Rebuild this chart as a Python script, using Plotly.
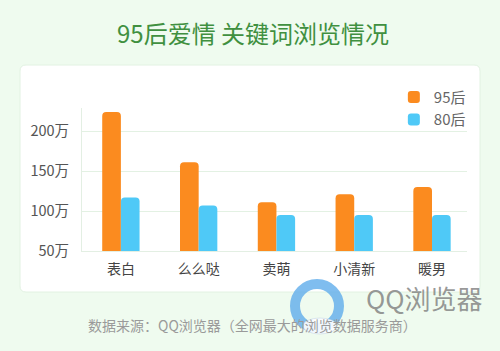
import plotly.graph_objects as go

categories = ["表白", "么么哒", "卖萌", "小清新", "暖男"]
series_95 = [224, 161, 111, 121, 130]
series_80 = [117, 107, 95, 95, 95]
tick_vals = [50, 100, 150, 200]
tick_text = ["50万", "100万", "150万", "200万"]

FONT = "Noto Sans CJK SC"
W, H = 500, 351
L, R, T, B = 82, 33, 108, 100

fig = go.Figure()
fig.add_trace(go.Bar(name="95后", x=categories, y=series_95, marker_color="#fb8b1f",
                     marker_line_width=0))
fig.add_trace(go.Bar(name="80后", x=categories, y=series_80, marker_color="#4fc9f7",
                     marker_line_width=0))

fig.update_layout(
    width=W, height=H,
    margin=dict(l=L, r=R, t=T, b=B),
    paper_bgcolor="#effbef",
    plot_bgcolor="rgba(0,0,0,0)",
    barmode="group",
    bargap=0.52,
    bargroupgap=0,
    barcornerradius=4,
    font=dict(family=FONT, color="#555555"),
    showlegend=True,
    legend=dict(x=1.01, xanchor="right", y=1.19, yanchor="top",
                font=dict(size=15, color="#666666", family=FONT),
                bgcolor="rgba(0,0,0,0)", itemwidth=30, tracegroupgap=0),
    xaxis=dict(range=[-0.5, 4.45], showgrid=False, showline=True, linecolor="#e3efe3",
               linewidth=1, ticks="", tickfont=dict(size=14, color="#444444", family=FONT),
               ticklabelstandoff=5, fixedrange=True),
    yaxis=dict(range=[50, 229], tickvals=tick_vals, ticktext=tick_text, showgrid=True,
               gridcolor="#e3f1e3", gridwidth=1, showline=True, linecolor="#e3efe3",
               linewidth=1, ticks="", zeroline=False,
               tickfont=dict(size=14.5, color="#555555", family=FONT),
               ticklabelstandoff=9, fixedrange=True),
)

def to_paper_x(p):
    return (p - L) / (W - L - R)

def to_paper_y(p):
    return (H - B - p) / (H - T - B)

# white rounded panel
x0, x1, y0, y1, r = 20, 480, 65, 292, 6
px0, px1 = to_paper_x(x0), to_paper_x(x1)
py0, py1 = to_paper_y(y0), to_paper_y(y1)
rx = r / (W - L - R)
ry = r / (H - T - B)
panel_path = (f"M {px0+rx},{py0} L {px1-rx},{py0} Q {px1},{py0} {px1},{py0-ry} L {px1},{py1+ry} "
              f"Q {px1},{py1} {px1-rx},{py1} L {px0+rx},{py1} Q {px0},{py1} {px0},{py1+ry} "
              f"L {px0},{py0-ry} Q {px0},{py0} {px0+rx},{py0} Z")
fig.add_shape(type="path", xref="paper", yref="paper", path=panel_path,
              fillcolor="#ffffff", line=dict(color="#e2f2e2", width=1), layer="below")

# watermark ring
cx, cy, rr = 317, 306, 22
fig.add_shape(type="circle", xref="paper", yref="paper",
              x0=to_paper_x(cx - rr), x1=to_paper_x(cx + rr),
              y0=to_paper_y(cy + rr), y1=to_paper_y(cy - rr),
              line=dict(color="rgba(95,172,235,0.8)", width=10), fillcolor="rgba(0,0,0,0)", layer="above")
# small cloud at the bottom of the ring
fig.add_shape(type="circle", xref="paper", yref="paper",
              x0=to_paper_x(303), x1=to_paper_x(337),
              y0=to_paper_y(334), y1=to_paper_y(318),
              line=dict(color="rgba(200,215,230,0.6)", width=1), fillcolor="rgba(250,252,255,0.92)", layer="above")

fig.add_annotation(text="95后爱情 关键词浏览情况", xref="paper", yref="paper",
                   x=to_paper_x(253), y=to_paper_y(32), xanchor="center", yanchor="middle",
                   showarrow=False, font=dict(size=24, color="#409040", family=FONT))
fig.add_annotation(text="QQ浏览器", xref="paper", yref="paper",
                   x=to_paper_x(485), y=to_paper_y(297), xanchor="right", yanchor="middle",
                   showarrow=False, font=dict(size=26, color="rgba(125,125,125,0.8)", family=FONT))
fig.add_annotation(text="数据来源：QQ浏览器（全网最大的浏览数据服务商）", xref="paper", yref="paper",
                   x=to_paper_x(86), y=to_paper_y(325), xanchor="left", yanchor="middle",
                   showarrow=False, font=dict(size=14, color="#9a9a9a", family=FONT))

fig.write_html("out.html")
